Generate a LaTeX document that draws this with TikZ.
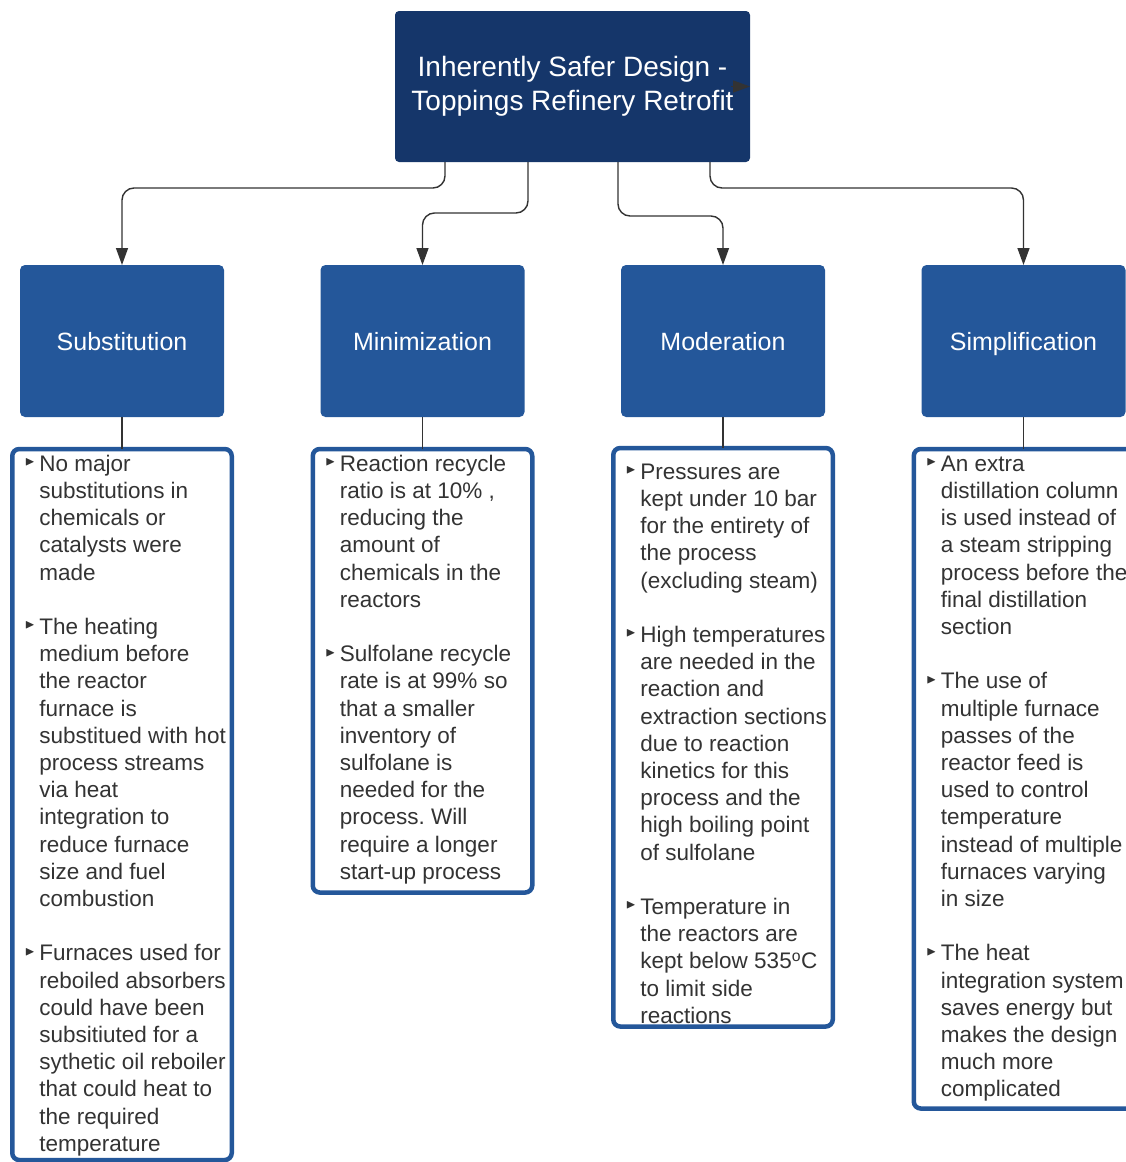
\documentclass[tikz,border=0pt]{standalone}
\usepackage{amssymb}
\usepackage{fontspec}
\setmainfont{Liberation Sans}
\usetikzlibrary{positioning,arrows.meta}

\definecolor{navy}{HTML}{15366A}
\definecolor{catblue}{HTML}{24579A}
\definecolor{inkgray}{HTML}{333333}
\newcommand{\bl}{\makebox[14.5pt][l]{\raisebox{5.5pt}{\fontsize{13}{13}\selectfont$\blacktriangleright$}}}
\frenchspacing

\begin{document}
\begin{tikzpicture}[x=1pt,y=-1pt,node distance=96.5pt,
    rootbox/.style={draw=none,fill=navy,rounded corners=4pt,text=white,
      minimum width=355pt,minimum height=151pt,outer sep=0pt,align=center,
      font=\fontsize{28}{34}\selectfont},
    catbox/.style={draw=none,fill=catblue,rounded corners=5pt,text=white,
      minimum width=204pt,minimum height=152pt,outer sep=0pt,text depth=0pt,
      font=\fontsize{25}{30}\selectfont},
    listbox/.style={draw=catblue,line width=4.5pt,rounded corners=7pt,fill=white,
      minimum width=219.5pt,outer sep=0pt},
    listtext/.style={anchor=north west,inner sep=0pt,text=inkgray,
      font=\fontsize{22.5}{27.2}\selectfont},
    link/.style={draw=inkgray,line width=1.4pt,rounded corners=12pt,
      -{Triangle[length=17pt,width=12pt]}},
    stem/.style={draw=inkgray,line width=1.2pt}]
    \useasboundingbox (0,0) rectangle (1126,1162);

    \node[rootbox] (root) at (572.5,86.5) {Inherently Safer Design -\\Toppings Refinery Retrofit};

    \node[catbox] (sub) at (122,341)    {Substitution};
    \node[catbox] (min) [right=of sub]  {Minimization};
    \node[catbox] (mod) [right=of min]  {Moderation};
    \node[catbox] (sim) [right=of mod]  {Simplification};

    \node[listbox,minimum height=711pt]   (subl) [below=32pt of sub] {};
    \node[listbox,minimum height=443.5pt] (minl) [below=32pt of min] {};
    \node[listbox,minimum height=578.5pt] (modl) [below=31pt of mod] {};
    \node[listbox,minimum height=659.5pt] (siml) [below=32pt of sim] {};

    \node[listtext] (subx) at ([xshift=12.5pt,yshift=-3pt]subl.north west) {%
      \begin{tabular}{@{}l@{}l@{}}
        \bl & No major\\
            & substitutions in\\
            & chemicals or\\
            & catalysts were\\
            & made\\
            & \\
        \bl & The heating\\
            & medium before\\
            & the reactor\\
            & furnace is\\
            & substitued with hot\\
            & process streams\\
            & via heat\\
            & integration to\\
            & reduce furnace\\
            & size and fuel\\
            & combustion\\
            & \\
        \bl & Furnaces used for\\
            & reboiled absorbers\\
            & could have been\\
            & subsitiuted for a\\
            & sythetic oil reboiler\\
            & that could heat to\\
            & the required\\
            & temperature
      \end{tabular}};

    \node[listtext] (minx) at ([xshift=12.5pt,yshift=-3pt]minl.north west) {%
      \begin{tabular}{@{}l@{}l@{}}
        \bl & Reaction recycle\\
            & ratio is at 10\% ,\\
            & reducing the\\
            & amount of\\
            & chemicals in the\\
            & reactors\\
            & \\
        \bl & Sulfolane recycle\\
            & rate is at 99\% so\\
            & that a smaller\\
            & inventory of\\
            & sulfolane is\\
            & needed for the\\
            & process. Will\\
            & require a longer\\
            & start-up process
      \end{tabular}};

    \node[listtext] (modx) at ([xshift=12.5pt,yshift=-12pt]modl.north west) {%
      \begin{tabular}{@{}l@{}l@{}}
        \bl & Pressures are\\
            & kept under 10 bar\\
            & for the entirety of\\
            & the process\\
            & (excluding steam)\\
            & \\
        \bl & High temperatures\\
            & are needed in the\\
            & reaction and\\
            & extraction sections\\
            & due to reaction\\
            & kinetics for this\\
            & process and the\\
            & high boiling point\\
            & of sulfolane\\
            & \\
        \bl & Temperature in\\
            & the reactors are\\
            & kept below 535\textsuperscript{o}C\\
            & to limit side\\
            & reactions
      \end{tabular}};

    \node[listtext] (simx) at ([xshift=12.5pt,yshift=-3pt]siml.north west) {%
      \begin{tabular}{@{}l@{}l@{}}
        \bl & An extra\\
            & distillation column\\
            & is used instead of\\
            & a steam stripping\\
            & process before the\\
            & final distillation\\
            & section\\
            & \\
        \bl & The use of\\
            & multiple furnace\\
            & passes of the\\
            & reactor feed is\\
            & used to control\\
            & temperature\\
            & instead of multiple\\
            & furnaces varying\\
            & in size\\
            & \\
        \bl & The heat\\
            & integration system\\
            & saves energy but\\
            & makes the design\\
            & much more\\
            & complicated
      \end{tabular}};

    % elbow connectors from the root
    \draw[link] ([xshift=-127.5pt]root.south) -- ++(0,26) -| (sub.north);
    \draw[link] ([xshift=-44.5pt]root.south)  -- ++(0,51) -| (min.north);
    \draw[link] ([xshift=45.5pt]root.south)   -- ++(0,54) -| (mod.north);
    \draw[link] ([xshift=137.5pt]root.south)  -- ++(0,26) -| (sim.north);
    \draw[link] ([xshift=-19pt]root.east) -- (root.east);

    \path[stem] (sub.south) -- (subl.north)
                (min.south) -- (minl.north)
                (mod.south) -- (modl.north)
                (sim.south) -- (siml.north);
\end{tikzpicture}
\end{document}
